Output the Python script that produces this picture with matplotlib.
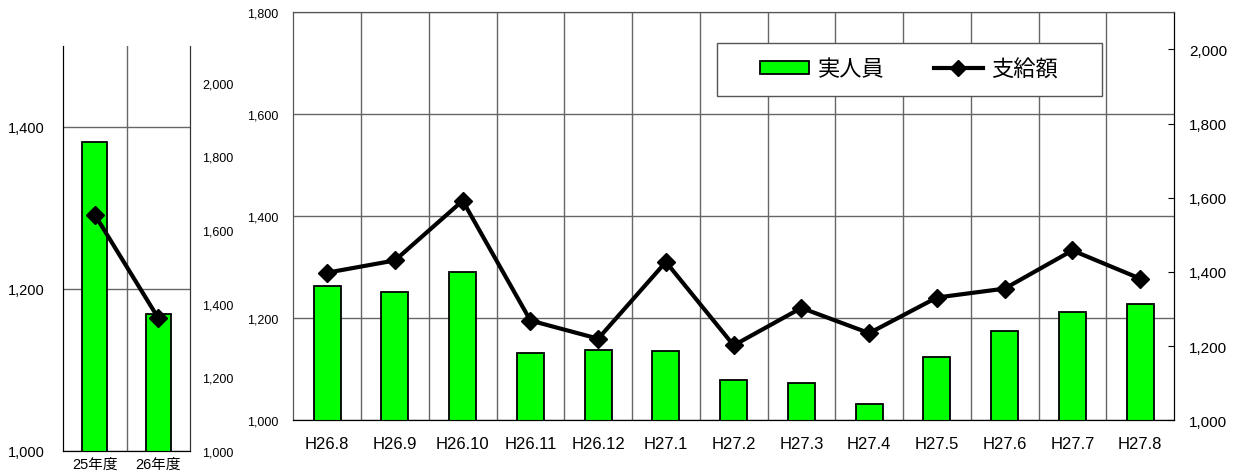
import matplotlib.pyplot as plt
from matplotlib.patches import Rectangle
from matplotlib.lines import Line2D

plt.rcParams['font.family'] = ['Liberation Sans', 'Noto Sans CJK JP', 'DejaVu Sans']

# annual summary (left panel)
annual_labels = ['25年度', '26年度']
annual_people = [1382, 1169]
annual_amount = [1642, 1361]

# monthly values (main panel)
months = ['H26.8', 'H26.9', 'H26.10', 'H26.11', 'H26.12', 'H27.1', 'H27.2',
          'H27.3', 'H27.4', 'H27.5', 'H27.6', 'H27.7', 'H27.8']
people = [1264, 1251, 1290, 1131, 1137, 1135, 1080, 1074, 1031, 1125, 1175, 1213, 1229]
amount = [1398, 1431, 1592, 1269, 1220, 1427, 1202, 1303, 1235, 1331, 1355, 1458, 1382]

GREEN = '#00ff00'
GRID = '#666666'

fig = plt.figure(figsize=(12.45, 4.77), dpi=100)

# ---- left panel: fiscal years
axl = fig.add_axes([63 / 1245, 25 / 477, 127 / 1245, 405 / 477])
xs = range(len(annual_labels))
axl.bar(xs, annual_people, width=0.4, color=GREEN, edgecolor='black', linewidth=1.3, zorder=3)
axl.set_xlim(-0.5, len(annual_labels) - 0.5)
axl.set_ylim(1000, 1500)
axl.set_yticks([1000, 1200, 1400])
axl.set_yticklabels(['1,000', '1,200', '1,400'], fontsize=10.5)
axl.set_xticks(list(xs))
axl.set_xticklabels(annual_labels, fontsize=10.5)
axl.set_xticks([0.5], minor=True)
axl.tick_params(axis='both', which='both', length=0)
axl.tick_params(axis='y', pad=13)
axl.tick_params(axis='x', pad=4)
axl.grid(axis='y', color=GRID, linewidth=1)
axl.grid(axis='x', which='minor', color=GRID, linewidth=1)
axl.set_axisbelow(True)
axl.spines['top'].set_visible(False)
axl.spines['right'].set_color('#333333')

axl2 = axl.twinx()
axl2.plot(list(xs), annual_amount, color='black', linewidth=3, marker='D',
          markersize=9.5, zorder=4)
axl2.set_ylim(1000, 2100)
axl2.set_yticks(range(1000, 2001, 200))
axl2.set_yticklabels([f'{v:,}' for v in range(1000, 2001, 200)], fontsize=9)
axl2.tick_params(axis='y', length=0, pad=9)
axl2.spines['top'].set_visible(False)
axl2.spines['right'].set_color('#333333')

# ---- main panel: months
ax = fig.add_axes([293.3 / 1245, 55.7 / 477, 880.7 / 1245, 408 / 477])
xm = range(len(months))
ax.bar(xm, people, width=0.4, color=GREEN, edgecolor='black', linewidth=1.3, zorder=3)
ax.set_xlim(-0.5, len(months) - 0.5)
ax.set_ylim(1000, 1800)
ax.set_yticks(range(1000, 1801, 200))
ax.set_yticklabels([f'{v:,}' for v in range(1000, 1801, 200)], fontsize=9)
ax.set_xticks(list(xm))
ax.set_xticklabels(months, fontsize=12)
ax.set_xticks([i + 0.5 for i in range(len(months) - 1)], minor=True)
ax.tick_params(axis='both', which='both', length=0)
ax.tick_params(axis='y', pad=11)
ax.tick_params(axis='x', pad=11)
ax.grid(axis='y', color=GRID, linewidth=1)
ax.grid(axis='x', which='minor', color=GRID, linewidth=1)
ax.set_axisbelow(True)
for s in ['left', 'top']:
    ax.spines[s].set_color('#555555')

ax2 = ax.twinx()
ax2.plot(list(xm), amount, color='black', linewidth=3, marker='D',
         markersize=9.5, zorder=4)
ax2.set_ylim(1000, 2100)
ax2.set_yticks(range(1000, 2001, 200))
ax2.set_yticklabels([f'{v:,}' for v in range(1000, 2001, 200)], fontsize=11)
ax2.tick_params(axis='y', direction='in', length=4, pad=11)
ax2.spines['left'].set_color('#555555')
ax2.spines['top'].set_color('#555555')

# legend box
box = Rectangle((0.481, 0.794), 0.437, 0.130, transform=ax2.transAxes,
                facecolor='white', edgecolor='#555555', linewidth=1, zorder=5)
ax2.add_patch(box)
handles = [Rectangle((0, 0), 1, 1, facecolor=GREEN, edgecolor='black', linewidth=1.3),
           Line2D([], [], color='black', linewidth=3, marker='D', markersize=8)]
leg = ax2.legend(handles, ['実人員', '支給額'], loc='center',
                 bbox_to_anchor=(0.481 + 0.437 / 2, 0.794 + 0.065),
                 ncol=2, frameon=False, fontsize=16, handlelength=2.2,
                 handleheight=0.55, handletextpad=0.4, columnspacing=2.2)
leg.set_zorder(6)

fig.savefig('out.png', dpi=100)
